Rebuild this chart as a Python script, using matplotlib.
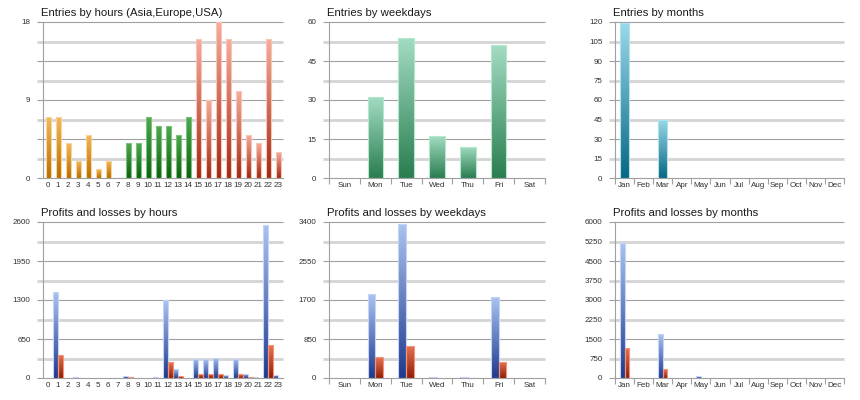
import numpy as np
import matplotlib
matplotlib.use("Agg")
import matplotlib.pyplot as plt
from matplotlib.colors import LinearSegmentedColormap

plt.rcParams['font.family'] = ['Liberation Sans', 'DejaVu Sans']

# ---- data ----
hours = [str(h) for h in range(24)]
entries_hours = [7, 7, 4, 2, 5, 1, 2, 0, 4, 4, 7, 6, 6, 5, 7, 16, 9, 18, 16, 10, 5, 4, 16, 3]
hour_region = ['asia'] * 8 + ['europe'] * 7 + ['usa'] * 9

weekdays = ['Sun', 'Mon', 'Tue', 'Wed', 'Thu', 'Fri', 'Sat']
entries_weekdays = [0, 31, 54, 16, 12, 51, 0]

months = ['Jan', 'Feb', 'Mar', 'Apr', 'May', 'Jun', 'Jul', 'Aug', 'Sep', 'Oct', 'Nov', 'Dec']
entries_months = [119, 0, 45, 0, 0, 0, 0, 0, 0, 0, 0, 0]

profit_hours = [0, 1440, 0, 15, 0, 0, 0, 0, 40, 0, 0, 10, 1300, 145, 0, 322, 311, 334, 44, 317, 72, 10, 2546, 56]
loss_hours = [0, 384, 0, 5, 0, 0, 0, 0, 10, 0, 0, 0, 261, 39, 0, 67, 67, 72, 0, 61, 22, 5, 545, 0]

profit_weekdays = [0, 1823, 3355, 29, 15, 1757, 0]
loss_weekdays = [0, 457, 704, 0, 10, 349, 0]

profit_months = [5205, 0, 1692, 0, 64, 0, 0, 0, 0, 0, 0, 0]
loss_months = [1167, 0, 346, 0, 0, 0, 0, 0, 0, 0, 0, 0]

# colour styles: (top, bottom, edge)
styles = {
    'asia': ('#f2b85a', '#b86e00', '#f8d39a'),
    'europe': ('#4fa84f', '#0f600f', '#7cc47c'),
    'usa': ('#f6ac9c', '#a02a12', '#f8c4b6'),
    'week': ('#a2dcc2', '#2a7e50', '#b4e8cc'),
    'month': ('#9ad8e8', '#086884', '#aee2f0'),
    'profit': ('#aac2f0', '#1f3a8e', '#c4d4f8'),
    'loss': ('#e87454', '#8e1e08', '#f29476'),
}

fig = plt.figure(figsize=(8.6, 4.0), dpi=100)
W, H = 860.0, 400.0
cols = [(43, 240), (329, 216), (615, 229)]
rows = [22, 222]
ph = 156


def gradient_bars(ax, x, vals, width, style):
    top, bottom, edge = styles[style] if isinstance(style, str) else (None, None, None)
    bars = ax.bar(x, vals, width, facecolor='none', edgecolor='none', zorder=3)
    for i, b in enumerate(bars):
        st = style[i] if not isinstance(style, str) else style
        top, bottom, edge = styles[st]
        h = b.get_height()
        if h <= 0:
            continue
        cmap = LinearSegmentedColormap.from_list(st, [bottom, top])
        grad = np.linspace(0, 1, 64).reshape(-1, 1)
        im = ax.imshow(grad, cmap=cmap, origin='lower', aspect='auto',
                       extent=[b.get_x(), b.get_x() + b.get_width(), 0, h],
                       zorder=2.5, interpolation='bilinear')
        im.set_clip_path(b)
        b.set_edgecolor(edge)
        b.set_linewidth(0.8)
    return bars


def setup(ax, cats, ymax, label_every, title, boundary_ticks, width_px):
    levels = np.linspace(0, ymax, 9)
    frac = 6.0 / width_px
    for i, lv in enumerate(levels):
        if i == 0:
            continue
        if i % 2 == 0:
            ax.hlines(lv, -frac, 1, transform=ax.get_yaxis_transform(),
                      color='#a0a0a0', lw=0.8, zorder=1, clip_on=False)
        else:
            ax.hlines(lv, -frac, 1, transform=ax.get_yaxis_transform(),
                      color='#d4d4d4', lw=2.0, zorder=0.5, clip_on=False)
    ax.hlines(0, -frac, 0, transform=ax.get_yaxis_transform(),
              color='#a0a0a0', lw=0.8, clip_on=False)
    ax.set_ylim(0, ymax)
    ax.set_xlim(-0.5, len(cats) - 0.5)
    lab = levels[::label_every]
    ax.set_yticks(lab)
    ax.set_yticklabels(['%d' % v for v in lab])
    ax.tick_params(axis='y', length=0, pad=9, labelsize=5.8, colors='#303030')
    ax.set_xticks(range(len(cats)))
    ax.set_xticklabels(cats)
    ax.tick_params(axis='x', length=0, pad=3, labelsize=5.8, colors='#303030')
    if boundary_ticks:
        ax.set_xticks(np.arange(-0.5, len(cats)), minor=True)
        ax.tick_params(axis='x', which='minor', length=4, color='#a0a0a0', width=0.8)
    for s in ['top', 'right']:
        ax.spines[s].set_visible(False)
    for s in ['left', 'bottom']:
        ax.spines[s].set_color('#a0a0a0')
        ax.spines[s].set_linewidth(0.8)
    ax.set_title(title, loc='left', fontsize=8.2, color='#1a1a1a', pad=4, x=-0.008)


axes = []
for r in rows:
    for (l, w) in cols:
        axes.append(fig.add_axes([l / W, 1 - (r + ph) / H, w / W, ph / H]))

# entries by hours
ax = axes[0]
xh = np.arange(len(hours))
gradient_bars(ax, xh, entries_hours, 0.5, hour_region)
setup(ax, hours, 18, 4, 'Entries by hours (Asia,Europe,USA)', False, 240)

# entries by weekdays
ax = axes[1]
xw = np.arange(len(weekdays))
gradient_bars(ax, xw, entries_weekdays, 0.5, 'week')
setup(ax, weekdays, 60, 2, 'Entries by weekdays', True, 216)

# entries by months
ax = axes[2]
xm = np.arange(len(months))
gradient_bars(ax, xm, entries_months, 0.5, 'month')
setup(ax, months, 120, 1, 'Entries by months', True, 229)

# profits and losses by hours
ax = axes[3]
gradient_bars(ax, xh - 0.235, profit_hours, 0.47, 'profit')
gradient_bars(ax, xh + 0.235, loss_hours, 0.47, 'loss')
setup(ax, hours, 2600, 2, 'Profits and losses by hours', False, 240)

# profits and losses by weekdays
ax = axes[4]
gradient_bars(ax, xw - 0.125, profit_weekdays, 0.25, 'profit')
gradient_bars(ax, xw + 0.125, loss_weekdays, 0.25, 'loss')
setup(ax, weekdays, 3400, 2, 'Profits and losses by weekdays', True, 216)

# profits and losses by months
ax = axes[5]
gradient_bars(ax, xm - 0.125, profit_months, 0.25, 'profit')
gradient_bars(ax, xm + 0.125, loss_months, 0.25, 'loss')
setup(ax, months, 6000, 1, 'Profits and losses by months', True, 229)

fig.savefig('out.png', dpi=100)
